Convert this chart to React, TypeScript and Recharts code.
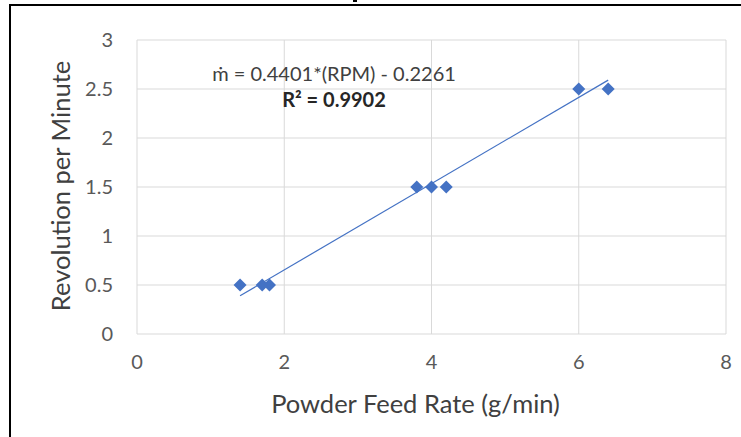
import { ReferenceLine, Scatter, ScatterChart, CartesianGrid, XAxis, YAxis } from "recharts";

const feedRate = [1.4, 1.7, 1.8, 3.8, 4.0, 4.2, 6.0, 6.4];
const rpm = [0.5, 0.5, 0.5, 1.5, 1.5, 1.5, 2.5, 2.5];
const xTicks = [0, 2, 4, 6, 8];
const yTicks = [0, 0.5, 1, 1.5, 2, 2.5, 3];

// trendline constants as printed on the chart
const SLOPE = 0.4401;
const INTERCEPT = -0.2261;
const R2 = 0.9902;

const BLUE = "#4472C4";
const GRID = "#D9D9D9";
const FONT = "Lato, 'Open Sans', sans-serif";

const points = feedRate.map((x, i) => ({ x, y: rpm[i] }));
const xMin = Math.min(...feedRate);
const xMax = Math.max(...feedRate);
const trend = [
  { x: xMin, y: SLOPE * xMin + INTERCEPT },
  { x: xMax, y: SLOPE * xMax + INTERCEPT },
];

function Diamond(props: { cx?: number; cy?: number }) {
  const { cx = 0, cy = 0 } = props;
  const r = 6.5;
  return (
    <polygon
      points={`${cx},${cy - r} ${cx + r},${cy} ${cx},${cy + r} ${cx - r},${cy}`}
      fill={BLUE}
    />
  );
}

export default function App() {
  return (
    <div style={{ position: "absolute", left: 0, top: 0, width: 741, height: 437, background: "#fff", overflow: "hidden" }}>
      {/* page frame, plus the tip of the page mark above it */}
      <div style={{ position: "absolute", left: 9, top: 4, width: 732, height: 2, background: "#000" }} />
      <div style={{ position: "absolute", left: 9, top: 4, width: 2, height: 433, background: "#000" }} />
      <div style={{ position: "absolute", left: 353, top: 0, width: 4, height: 2, background: "#000" }} />
      <ScatterChart
        width={741}
        height={437}
        margin={{ top: 40, right: 15, bottom: 23, left: 10 }}
        style={{ fontFamily: FONT }}
      >
        <CartesianGrid stroke={GRID} strokeWidth={1} />
        <XAxis
          type="number"
          dataKey="x"
          domain={[0, 8]}
          ticks={xTicks}
          height={80}
          axisLine={false}
          tickLine={false}
          tickSize={0}
          tickMargin={21}
          tick={{ fontSize: 20, fill: "#595959" }}
          label={{
            value: "Powder Feed Rate (g/min)",
            position: "insideBottom",
            offset: 1,
            dx: -16,
            style: { fontSize: 25.5, fill: "#404040" },
          }}
        />
        <YAxis
          type="number"
          dataKey="y"
          domain={[0, 3]}
          ticks={yTicks}
          width={127}
          axisLine={false}
          tickLine={false}
          tickSize={0}
          tickMargin={24}
          tick={{ fontSize: 20, fill: "#595959" }}
          label={{
            value: "Revolution per Minute",
            angle: -90,
            position: "insideLeft",
            offset: 51,
            dy: -1,
            style: { fontSize: 25.5, fill: "#404040", textAnchor: "middle" },
          }}
        />
        <ReferenceLine segment={trend} stroke={BLUE} strokeWidth={1.2} ifOverflow="visible" />
        <Scatter data={points} fill={BLUE} shape={<Diamond />} isAnimationActive={false} />
      </ScatterChart>
      <div
        style={{
          position: "absolute",
          left: 184,
          width: 300,
          top: 60,
          textAlign: "center",
          fontFamily: FONT,
          fontSize: 20,
          color: "#404040",
          lineHeight: "26px",
        }}
      >
        <div>{`ṁ = ${SLOPE}*(RPM) - ${Math.abs(INTERCEPT)}`}</div>
        <div style={{ fontWeight: "bold", color: "#262626" }}>{`R² = ${R2}`}</div>
      </div>
    </div>
  );
}
